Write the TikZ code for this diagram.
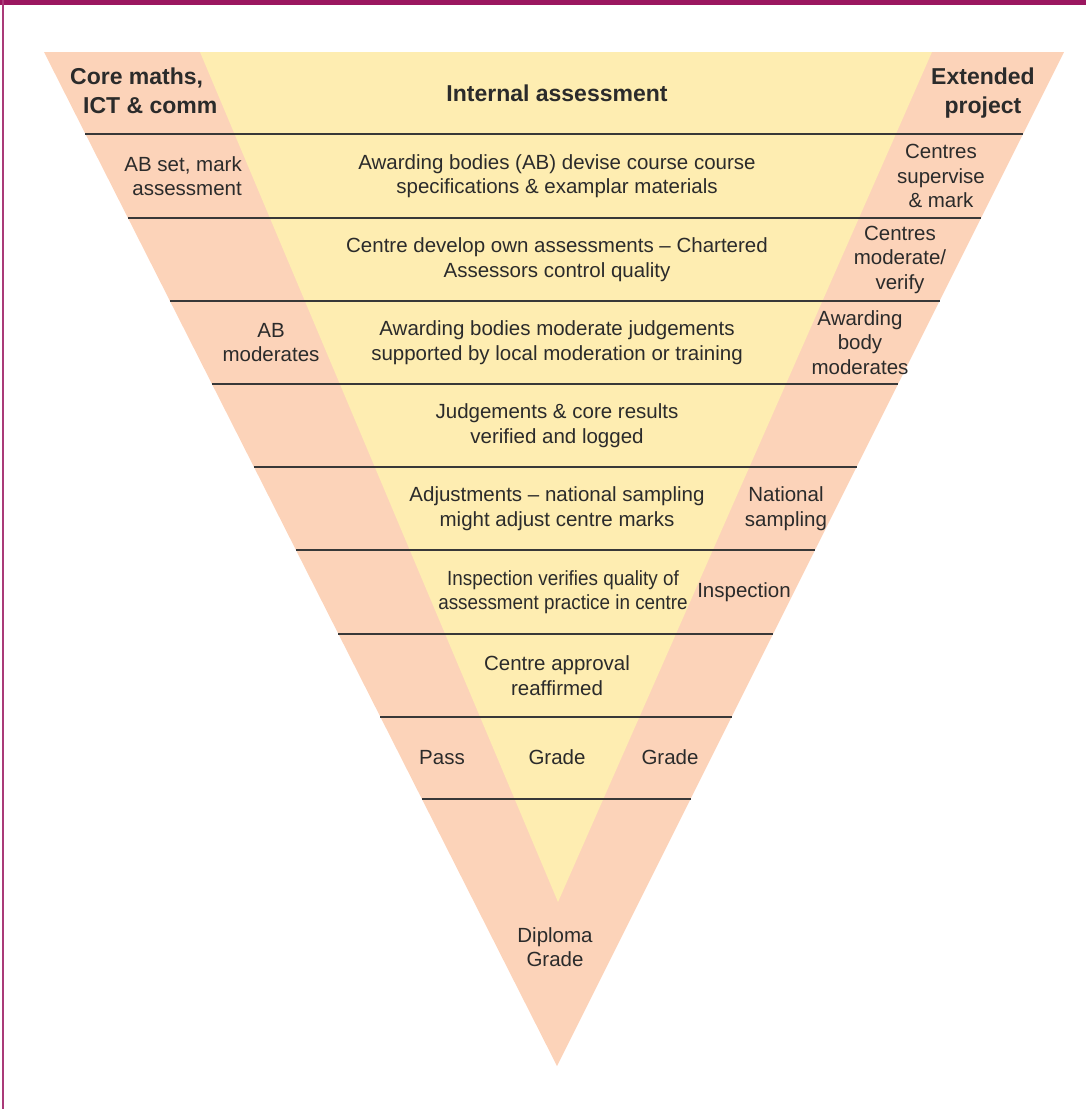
\documentclass[tikz,border=0pt]{standalone}
\usepackage{fontspec}
\setmainfont{Liberation Sans}
\newfontfamily\condfont{Liberation Sans}[FakeStretch=0.92]
\usetikzlibrary{calc}
\definecolor{barc}{HTML}{9B1760}
\definecolor{peach}{HTML}{FCD3B9}
\definecolor{yel}{HTML}{FEEDB1}
\definecolor{txt}{HTML}{2B2B2B}
\definecolor{rulec}{HTML}{383838}
\begin{document}
\begin{tikzpicture}[x=1pt,y=-1pt,
  lbl/.style={text=txt, font=\fontsize{20.5}{24.5}\selectfont, align=center, inner sep=0pt},
  hdr/.style={text=txt, font=\bfseries\fontsize{23}{29.5}\selectfont, align=center, inner sep=0pt},
  rowline/.style={draw=rulec, line width=1.5pt}]
\useasboundingbox (0,0) rectangle (1086,1109);
% frame
\fill[barc] (0,0) rectangle (1086,5);
\fill[barc!85] (2,0) rectangle (3.7,1109);
% triangles
\coordinate (TL) at (44,52);
\coordinate (TR) at (1064,52);
\coordinate (A) at (557,1066);
\fill[peach] (TL) -- (TR) -- (A) -- cycle;
\coordinate (YL) at (200,52);
\coordinate (YR) at (932,52);
\coordinate (YA) at (558,902);
\fill[yel] (YL) -- (YR) -- (YA) -- cycle;
% row lines
\foreach \yy in {134,218,301,384,467,550,634,717,799}{
  \pgfmathsetmacro\tt{(\yy-52)/1014}
  \draw[rowline] ($(TL)!\tt!(A)$) -- ($(TR)!\tt!(A)$);
}
% headers
\node[hdr, align=left, anchor=west] (core) at (70,91) {Core maths,\\\hspace*{13pt}ICT \& comm};
\node[hdr] (internal) at (557,93) {Internal assessment};
\node[hdr] (ext) at (983,93) {Extended\\project};
% row 1
\node[lbl, align=right, anchor=east] (r1l) at (242,176) {AB set, mark\\assessment};
\node[lbl] (r1c) at (557,176) {Awarding bodies (AB) devise course course\\specifications \& examplar materials};
\node[lbl] (r1r) at (941,176) {Centres\\supervise\\\& mark};
% row 2
\node[lbl] (r2c) at (557,259.5) {Centre develop own assessments -- Chartered\\Assessors control quality};
\node[lbl] (r2r) at (900,259.5) {Centres\\moderate/\\verify};
% row 3
\node[lbl] (r3l) at (271,342.5) {AB\\moderates};
\node[lbl] (r3c) at (557,342.5) {Awarding bodies moderate judgements\\supported by local moderation or training};
\node[lbl] (r3r) at (860,342.5) {Awarding\\body\\moderates};
% row 4
\node[lbl] (r4c) at (557,425.5) {Judgements \& core results\\verified and logged};
% row 5
\node[lbl] (r5c) at (557,508.5) {Adjustments -- national sampling\\might adjust centre marks};
\node[lbl] (r5r) at (786,508.5) {National\\sampling};
% row 6
\node[lbl, font=\condfont\fontsize{20.5}{24.5}\selectfont] (r6c) at (563,592) {Inspection verifies quality of\\assessment practice in centre};
\node[lbl] (r6r) at (744,592) {Inspection};
% row 7
\node[lbl] (r7c) at (557,675.5) {Centre approval\\reaffirmed};
% row 8
\node[lbl, anchor=base] (r8l) at (442,764) {Pass};
\node[lbl, anchor=base] (r8c) at (557,764) {Grade};
\node[lbl, anchor=base] (r8r) at (670,764) {Grade};
% bottom
\node[lbl] (dip) at (555,947) {Diploma\\Grade};
\end{tikzpicture}
\end{document}
